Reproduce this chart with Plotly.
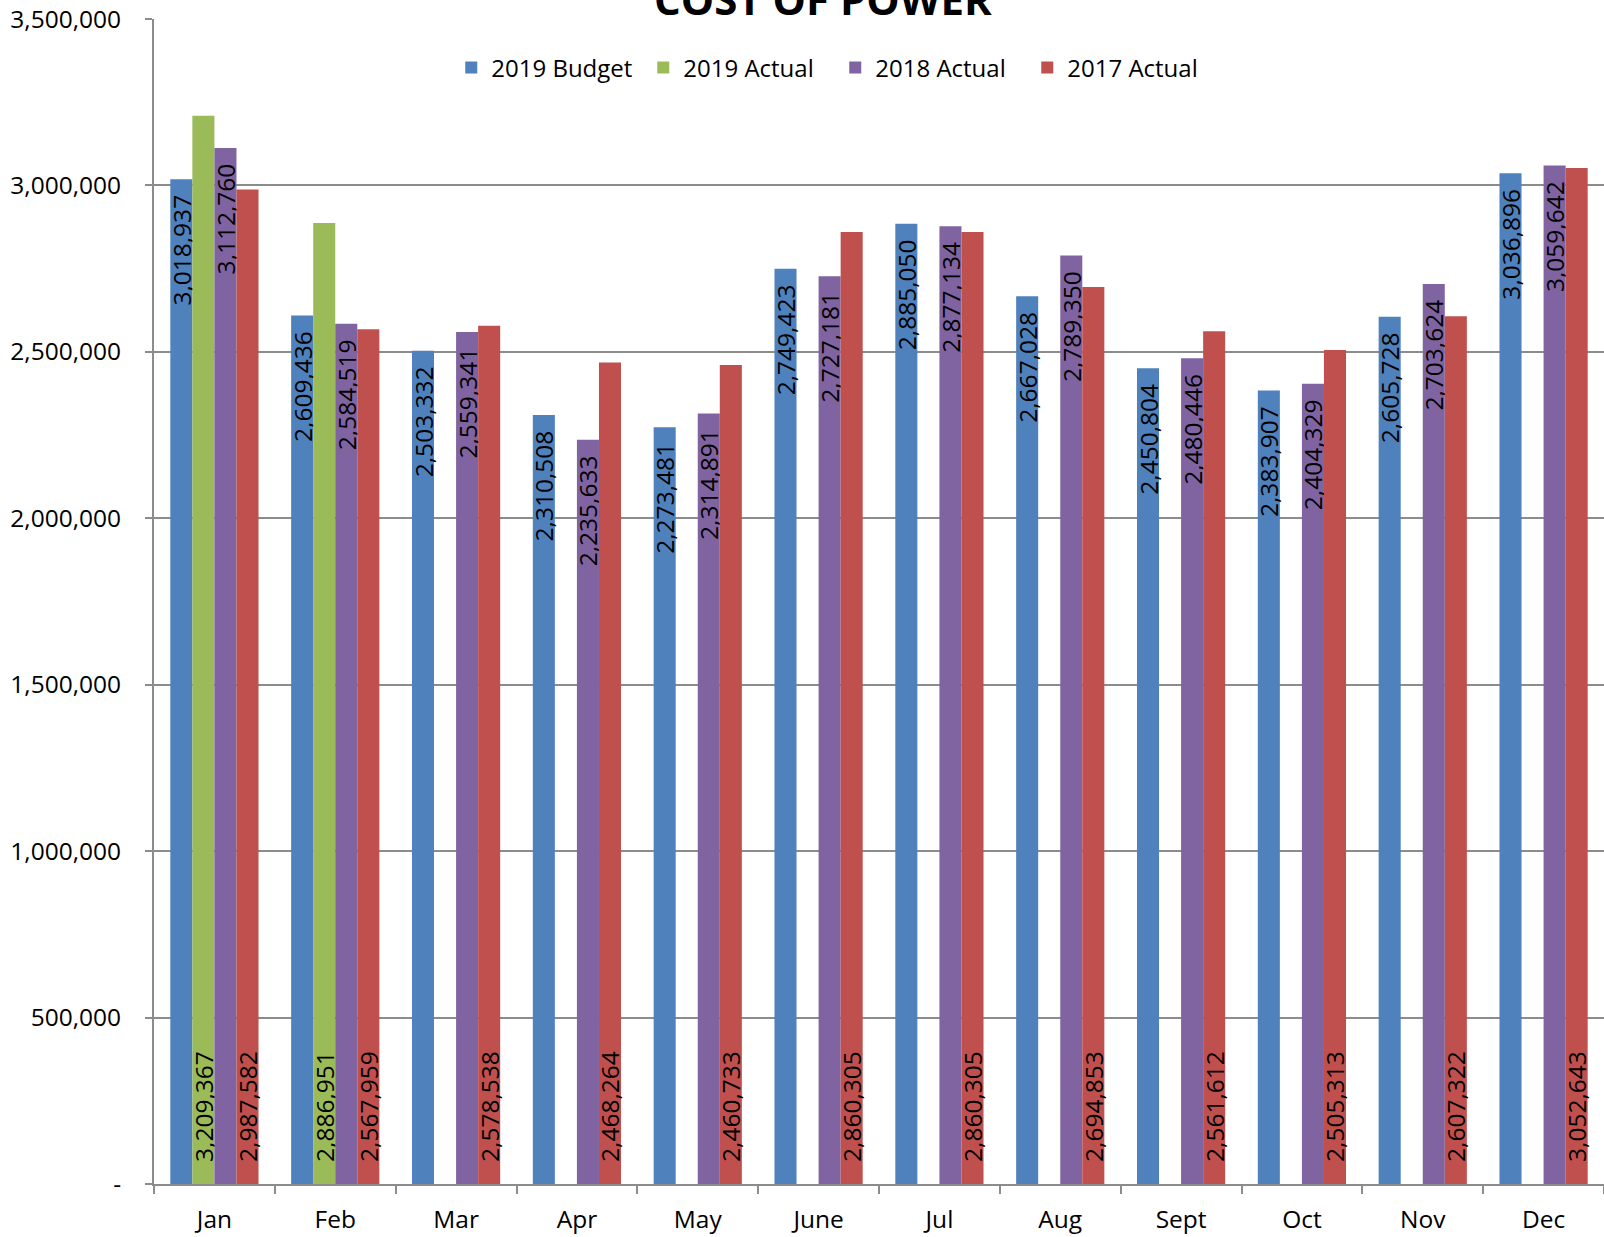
import plotly.graph_objects as go

months = ["Jan", "Feb", "Mar", "Apr", "May", "June", "Jul", "Aug", "Sept", "Oct", "Nov", "Dec"]
budget_2019 = [3018937, 2609436, 2503332, 2310508, 2273481, 2749423, 2885050, 2667028, 2450804, 2383907, 2605728, 3036896]
actual_2019 = [3209367, 2886951, None, None, None, None, None, None, None, None, None, None]
actual_2018 = [3112760, 2584519, 2559341, 2235633, 2314891, 2727181, 2877134, 2789350, 2480446, 2404329, 2703624, 3059642]
actual_2017 = [2987582, 2567959, 2578538, 2468264, 2460733, 2860305, 2860305, 2694853, 2561612, 2505313, 2607322, 3052643]

y_ticks = [0, 500000, 1000000, 1500000, 2000000, 2500000, 3000000, 3500000]
y_ticktext = ["-", "500,000", "1,000,000", "1,500,000", "2,000,000", "2,500,000", "3,000,000", "3,500,000"]

FONT = "Open Sans"
NB = "\u00a0"

series = [
    ("2019 Budget", budget_2019, "#4F81BD", "end"),
    ("2019 Actual", actual_2019, "#9BBB59", "start"),
    ("2018 Actual", actual_2018, "#8064A2", "end"),
    ("2017 Actual", actual_2017, "#C0504D", "start"),
]

fig = go.Figure()
for name, vals, color, anchor in series:
    if anchor == "end":
        tmpl = "%{y:,}" + NB * 2
    else:
        tmpl = NB * 3 + "%{y:,}"
    fig.add_trace(go.Bar(
        x=months, y=vals, name=name,
        marker=dict(color=color, line=dict(width=0)),
        texttemplate=tmpl,
        textposition="inside",
        insidetextanchor=anchor,
        textangle=-90,
        textfont=dict(family=FONT, size=24.5, color="black"),
        cliponaxis=False,
    ))

fig.update_layout(
    width=1604, height=1237,
    margin=dict(l=154, r=0, t=19, b=53),
    paper_bgcolor="white", plot_bgcolor="white",
    barmode="group", bargap=0.27, bargroupgap=0,
    font=dict(family=FONT, size=24.5, color="black"),
    uniformtext=dict(minsize=24.5, mode="show"),
    title=dict(text="<b>COST OF POWER</b>", x=0.513, xref="container", xanchor="center",
               y=1, yref="container", yanchor="middle",
               font=dict(family=FONT, size=42, color="black")),
    legend=dict(orientation="h", x=0.205, xanchor="left", y=0.958, yanchor="middle",
                font=dict(family=FONT, size=24, color="black"),
                bgcolor="rgba(0,0,0,0)", entrywidth=147, itemwidth=30, traceorder="normal"),
    showlegend=True,
)
fig.update_yaxes(
    range=[0, 3500000], tickvals=y_ticks, ticktext=y_ticktext,
    showgrid=True, gridcolor="#8c8c8c", gridwidth=1.5,
    showline=True, linecolor="#8c8c8c", linewidth=2,
    ticks="outside", ticklen=7, tickcolor="#8c8c8c", tickwidth=1.5,
    ticklabelstandoff=19, zeroline=False,
    tickfont=dict(family=FONT, size=24.5, color="black"),
)
fig.update_xaxes(
    showline=True, linecolor="#8c8c8c", linewidth=2,
    ticks="outside", ticklen=8, tickcolor="#8c8c8c", tickwidth=1.5,
    tickson="boundaries", showgrid=False,
    ticklabelstandoff=13,
    tickfont=dict(family=FONT, size=24.5, color="black"),
)

fig.write_html("out.html")
